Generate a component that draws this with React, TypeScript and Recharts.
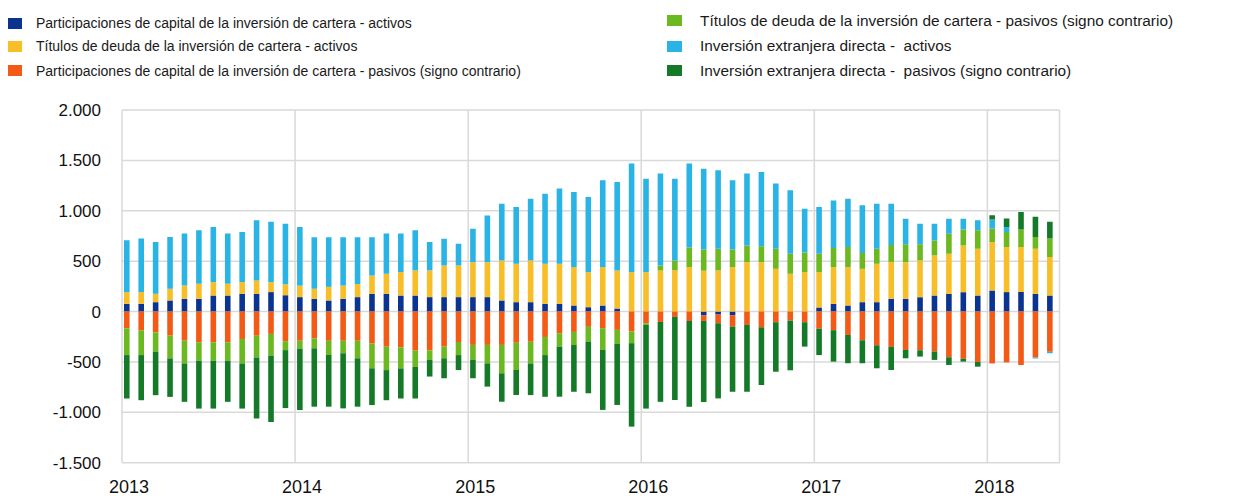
import React from 'react';
import { BarChart, Bar, XAxis, YAxis, CartesianGrid, Legend } from 'recharts';

const FONT = '"Liberation Sans", Arial, Helvetica, sans-serif';

const years = [2013, 2014, 2015, 2016, 2017, 2018];
const yTicks = [-1500, -1000, -500, 0, 500, 1000, 1500, 2000];

const seriesNames = [
  'Participaciones de capital de la inversión de cartera - activos',
  'Títulos de deuda de la inversión de cartera - activos',
  'Participaciones de capital de la inversión de cartera - pasivos (signo contrario)',
  'Títulos de deuda de la inversión de cartera - pasivos (signo contrario)',
  'Inversión extranjera directa -  activos',
  'Inversión extranjera directa -  pasivos (signo contrario)',
];
const seriesKeys = ['a', 'b', 'c', 'd', 'e', 'f'];
const seriesColors = ['#0b3490', '#f8be28', '#f25a16', '#6cb820', '#2ab4e6', '#157a28'];

// monthly, Jan 2013 .. May 2018
const equityAssets = [
  76, 76, 93, 110, 126, 126, 159, 159, 176, 176, 193, 162,
  143, 126, 110, 126, 143, 176, 176, 159, 159, 143, 143, 143,
  143, 143, 110, 93, 93, 76, 76, 60, 43, 60, 30, 0,
  0, 0, 0, 0, -36, -30, -36, 0, 0, 0, 0, 0,
  40, 76, 60, 93, 93, 126, 126, 142, 159, 175, 192, 159,
  209, 193, 193, 176, 159,
];
const debtAssets = [
  117, 117, 83, 116, 133, 150, 133, 117, 116, 133, 99, 109,
  114, 100, 135, 132, 130, 181, 199, 233, 249, 265, 314, 314,
  347, 347, 397, 381, 414, 398, 398, 381, 348, 381, 377, 391,
  391, 407, 410, 441, 405, 408, 441, 490, 490, 424, 375, 391,
  352, 365, 380, 331, 381, 367, 364, 365, 398, 398, 464, 464,
  482, 448, 448, 448, 382,
];
const equityLiab = [
  -166, -189, -206, -239, -289, -305, -305, -305, -272, -239, -222, -294,
  -290, -266, -290, -290, -290, -318, -349, -355, -388, -385, -348, -302,
  -331, -331, -331, -310, -300, -252, -215, -202, -152, -165, -182, -198,
  -116, -103, -53, -94, -57, -86, -113, -133, -156, -106, -90, -106,
  -170, -185, -232, -285, -335, -351, -381, -384, -397, -454, -468, -500,
  -515, -505, -531, -455, -398,
];
const debtLiab = [
  -266, -243, -192, -226, -226, -183, -183, -183, -243, -216, -216, -89,
  -78, -99, -141, -124, -174, -245, -232, -209, -160, -95, -116, -130,
  -150, -183, -282, -270, -215, -180, -133, -130, -146, -215, -140, -116,
  -17, 50, 97, 194, 210, 215, 174, 166, 158, 199, 198, 194,
  181, 190, 200, 156, 149, 167, 177, 160, 148, 199, 158, 183,
  132, 149, 172, 116, 183,
];
const fdiAssets = [
  514, 531, 515, 514, 515, 531, 548, 498, 498, 597, 598, 599,
  582, 512, 493, 479, 465, 381, 399, 382, 399, 282, 265, 215,
  332, 464, 563, 563, 613, 696, 746, 745, 745, 861, 878, 1077,
  928, 912, 811, 833, 803, 779, 688, 714, 737, 647, 630, 436,
  464, 472, 480, 474, 447, 410, 254, 204, 166, 149, 107, 99,
  90, 50, 0, -10, -15,
];
const fdiLiab = [
  -431, -448, -432, -382, -381, -475, -475, -408, -448, -607, -658, -575,
  -609, -579, -513, -547, -480, -365, -299, -299, -315, -165, -198, -149,
  -181, -231, -282, -248, -314, -414, -497, -464, -513, -596, -605, -828,
  -830, -793, -825, -851, -805, -746, -647, -663, -573, -491, -493, -242,
  -262, -312, -281, -228, -228, -229, -83, -63, -83, -76, -29, -47,
  43, 83, 176, 200, 166,
];

const data = equityAssets.map((_, i) => ({
  m: i,
  a: equityAssets[i],
  b: debtAssets[i],
  c: equityLiab[i],
  d: debtLiab[i],
  e: fdiAssets[i],
  f: fdiLiab[i],
}));

const yearTicks = years.map((_, i) => i * 12);

const fmt = (v: number) => {
  const s = Math.abs(v).toString();
  const w = s.length > 3 ? s.slice(0, -3) + '.' + s.slice(-3) : s;
  return (v < 0 ? '-' : '') + w;
};

const YearTick = (props: any) => {
  const { x, y, payload } = props;
  return (
    <text x={x + 7} y={y} textAnchor="middle" fontSize={18} fill="#111" fontFamily={FONT}>
      {years[Math.round(payload.value / 12)]}
    </text>
  );
};

const LegendBox = () => {
  const cols = [
    { sq: 7, tx: 36, fs: 14, rows: [23, 46, 70.5], idx: [0, 1, 2] },
    { sq: 667, tx: 700, fs: 15.4, rows: [20.5, 46, 70.5], idx: [3, 4, 5] },
  ];
  return (
    <div style={{ position: 'relative', width: 1240, height: 90, fontFamily: FONT }}>
      {cols.map((c, ci) =>
        c.idx.map((si, ri) => (
          <React.Fragment key={ci + '-' + ri}>
            <div
              style={{
                position: 'absolute',
                left: c.sq,
                top: c.rows[ri] - 5.5,
                width: 15,
                height: 11,
                background: seriesColors[si],
              }}
            />
            <div
              style={{
                position: 'absolute',
                left: c.tx,
                top: c.rows[ri] - c.fs / 2,
                fontSize: c.fs,
                lineHeight: c.fs + 'px',
                color: '#1a1a1a',
                whiteSpace: 'pre',
              }}
            >
              {seriesNames[si]}
            </div>
          </React.Fragment>
        ))
      )}
    </div>
  );
};

export default function App() {
  return (
    <div style={{ margin: '-8px 0 0 -8px', width: 1240, height: 496, background: '#fff' }}>
      <BarChart
        width={1240}
        height={496}
        data={data}
        stackOffset="sign"
        margin={{ top: 110, right: 180.5, bottom: 0, left: 0 }}
      >
        <CartesianGrid xAxisId="yr" stroke="#d9d9d9" strokeWidth={1.5} />
        <XAxis xAxisId="m" dataKey="m" type="number" domain={[-0.36, 64.64]} allowDataOverflow hide />
        <XAxis
          xAxisId="yr"
          dataKey="m"
          type="number"
          domain={[0, 65]}
          allowDataOverflow
          ticks={yearTicks}
          interval={0}
          tick={<YearTick />}
          tickLine={false}
          axisLine={false}
          tickSize={0}
          tickMargin={0}
          height={33.3}
        />
        <YAxis
          type="number"
          domain={[-1500, 2000]}
          ticks={yTicks}
          interval={0}
          tickFormatter={fmt}
          width={122}
          tickLine={false}
          axisLine={false}
          tickSize={0}
          tickMargin={21}
          tick={{ fontSize: 17, fill: '#111', fontFamily: FONT }}
        />
        <Legend
          layout="vertical"
          align="center"
          verticalAlign="middle"
          wrapperStyle={{ left: 0, top: 0, width: 1240, height: 90 }}
          content={() => <LegendBox />}
        />
        {seriesKeys.map((k, i) => (
          <Bar
            key={k}
            xAxisId="m"
            dataKey={k}
            name={seriesNames[i]}
            stackId="s"
            fill={seriesColors[i]}
            barSize={5.6}
            isAnimationActive={false}
          />
        ))}
      </BarChart>
    </div>
  );
}
